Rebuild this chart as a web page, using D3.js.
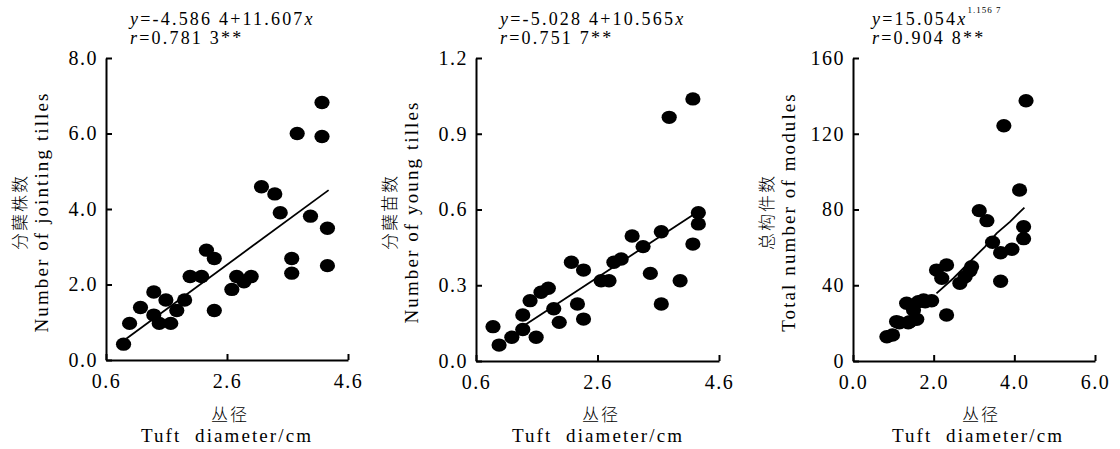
<!DOCTYPE html>
<html>
<head>
<meta charset="utf-8">
<script src="https://cdn.jsdelivr.net/npm/d3@7"></script>
<style>
  body { margin: 0; background: #fff; }
  svg { display: block; }
  .tick text { font-family: "Liberation Serif", "Times New Roman", serif; font-size: 20px; letter-spacing: 1.5px; fill: #000; }
  .axis path, .axis line { stroke: #000; stroke-width: 2px; }
  .eq { font-family: "Liberation Serif", "Times New Roman", serif; font-size: 18px; letter-spacing: 2.2px; }
  .lab-en { font-family: "Liberation Serif", "Times New Roman", serif; font-size: 19px; letter-spacing: 2.1px; }
  .lab-cn { font-family: "Noto Sans CJK SC", sans-serif; font-size: 17px; font-weight: 300; letter-spacing: 2px; }
</style>
</head>
<body>
<div id="chart"></div>
<script>
////////////////////////////////////////////////////////////////////
////////////////////////////  Data  ////////////////////////////////
// panel 1: jointing tillers
const tuft1 = [0.89, 0.99, 1.17, 1.39, 1.39, 1.48, 1.59, 1.67, 1.77, 1.90, 1.99, 2.18, 2.26, 2.39, 2.39,
  2.68, 2.76, 2.88, 3.00, 3.17, 3.39, 3.48, 3.67, 3.67, 3.76, 3.98, 4.17, 4.17, 4.26, 4.26];
const jointing = [0.42, 0.97, 1.39, 1.80, 1.19, 0.97, 1.59, 0.97, 1.31, 1.59, 2.21, 2.21, 2.91, 2.69, 1.31,
  1.87, 2.21, 2.07, 2.21, 4.59, 4.40, 3.90, 2.69, 2.30, 6.00, 3.81, 6.82, 5.92, 3.49, 2.50];
const fit1X = [0.94, 4.28];
const fit1Y = [0.57, 4.50];

// panel 2: young tillers
const tuft2 = [0.88, 0.98, 1.19, 1.37, 1.37, 1.49, 1.59, 1.67, 1.79, 1.88, 1.97, 2.17, 2.27, 2.37, 2.37,
  2.66, 2.79, 2.87, 2.99, 3.17, 3.35, 3.47, 3.65, 3.65, 3.78, 3.96, 4.17, 4.17, 4.26, 4.26];
const young = [0.136, 0.063, 0.094, 0.182, 0.125, 0.239, 0.094, 0.272, 0.288, 0.207, 0.153, 0.391, 0.226, 0.360, 0.166,
  0.318, 0.318, 0.391, 0.404, 0.495, 0.453, 0.347, 0.512, 0.226, 0.965, 0.318, 1.038, 0.463, 0.587, 0.543];
const fit2X = [1.38, 4.17];
const fit2Y = [0.139, 0.578];

// panel 3: total modules
const tuft3 = [0.84, 0.98, 1.08, 1.15, 1.33, 1.37, 1.41, 1.50, 1.58, 1.62, 1.75, 1.79, 1.95, 2.07, 2.20,
  2.32, 2.32, 2.65, 2.78, 2.90, 2.94, 3.13, 3.32, 3.46, 3.66, 3.66, 3.74, 3.94, 4.13, 4.23, 4.23, 4.29];
const modules = [12.8, 13.7, 20.8, 20.2, 30.5, 20.2, 20.8, 26.9, 22.0, 31.3, 32.2, 31.3, 31.8, 48.0, 43.7,
  50.7, 24.3, 41.0, 44.5, 47.7, 49.8, 79.4, 74.1, 62.7, 57.2, 42.1, 124.2, 59.0, 90.3, 70.9, 64.6, 137.4];
const fit3X = [2.07, 2.49, 2.98, 3.27, 3.56, 3.89, 4.14, 4.25];
const fit3Y = [35.7, 43.7, 54.2, 60.3, 67.4, 73.5, 78.8, 81.0];

// ticks
const xTicks12 = [0.6, 2.6, 4.6];
const xTicks3 = [0, 2, 4, 6];
const yTicks1 = [0, 2, 4, 6, 8];
const yTicks2 = [0, 0.3, 0.6, 0.9, 1.2];
const yTicks3 = [0, 40, 80, 120, 160];

// texts
const eqs = [
  { y: "-4.586 4+11.607", x: "x", sup: "", r: "0.781 3**" },
  { y: "-5.028 4+10.565", x: "x", sup: "", r: "0.751 7**" },
  { y: "15.054", x: "x", sup: "1.156 7", r: "0.904 8**" },
];
const yLabelsCn = ["分蘖株数", "分蘖苗数", "总构件数"];
const yLabelsEn = ["Number of jointing tilles", "Number of young tilles", "Total number of modules"];

////////////////////////////////////////////////////////////////////
////////////////////////////  Init  ////////////////////////////////
const width = 1120;
const height = 449;
const svg = d3.select("#chart").append("svg").attr("width", width).attr("height", height);

const panels = [
  { left: 106, right: 348, top: 58, bottom: 360, xd: [0.6, 4.6], yd: [0, 8], xt: xTicks12, yt: yTicks1,
    xf: d3.format(".1f"), yf: d3.format(".1f"), xs: tuft1, ys: jointing, fx: fit1X, fy: fit1Y, labMid: 227 },
  { left: 476, right: 719, top: 58, bottom: 361, xd: [0.6, 4.6], yd: [0, 1.2], xt: xTicks12, yt: yTicks2,
    xf: d3.format(".1f"), yf: d3.format(".1f"), xs: tuft2, ys: young, fx: fit2X, fy: fit2Y, labMid: 598 },
  { left: 853, right: 1095, top: 58, bottom: 361, xd: [0, 6], yd: [0, 160], xt: xTicks3, yt: yTicks3,
    xf: d3.format(".1f"), yf: d3.format("d"), xs: tuft3, ys: modules, fx: fit3X, fy: fit3Y, labMid: 978 },
];

panels.forEach((p, i) => {
  const x = d3.scaleLinear().domain(p.xd).range([p.left, p.right]);
  const y = d3.scaleLinear().domain(p.yd).range([p.bottom, p.top]);

  // axes (ticks point inward)
  svg.append("g")
    .attr("class", "axis")
    .attr("transform", `translate(0,${p.bottom})`)
    .call(d3.axisBottom(x).tickValues(p.xt).tickFormat(p.xf).tickSizeInner(-6).tickSizeOuter(0).tickPadding(14));

  svg.append("g")
    .attr("class", "axis")
    .attr("transform", `translate(${p.left},0)`)
    .call(d3.axisLeft(y).tickValues(p.yt).tickFormat(p.yf).tickSizeInner(-6).tickSizeOuter(0).tickPadding(8));

  // fit line
  const line = d3.line().x((d) => x(d[0])).y((d) => y(d[1]));
  svg.append("path")
    .datum(d3.zip(p.fx, p.fy))
    .attr("d", line)
    .attr("fill", "none")
    .attr("stroke", "#000")
    .attr("stroke-width", 1.8);

  // points
  svg.append("g")
    .selectAll("ellipse")
    .data(d3.zip(p.xs, p.ys))
    .join("ellipse")
    .attr("cx", (d) => x(d[0]))
    .attr("cy", (d) => y(d[1]))
    .attr("rx", 7.6)
    .attr("ry", 6.7)
    .attr("fill", "#000");

  // equation
  const e = eqs[i];
  const tx = p.left + (i === 2 ? 19 : 24);
  const t1 = svg.append("text").attr("class", "eq").attr("x", tx).attr("y", 25);
  t1.append("tspan").attr("font-style", "italic").text("y");
  t1.append("tspan").text("=" + e.y);
  t1.append("tspan").attr("font-style", "italic").text(e.x);
  if (e.sup) {
    t1.append("tspan").attr("dy", -12).attr("font-size", 9).attr("letter-spacing", "1px").text(e.sup);
  }
  const t2 = svg.append("text").attr("class", "eq").attr("x", tx).attr("y", 44);
  t2.append("tspan").attr("font-style", "italic").text("r");
  t2.append("tspan").text("=" + e.r);

  // y labels
  const ymid = 212;
  svg.append("text")
    .attr("class", "lab-cn")
    .attr("text-anchor", "middle")
    .attr("transform", `translate(${p.left - 80},${ymid}) rotate(-90)`)
    .text(yLabelsCn[i]);
  svg.append("text")
    .attr("class", "lab-en")
    .attr("text-anchor", "middle")
    .attr("transform", `translate(${p.left - 58},${ymid}) rotate(-90)`)
    .text(yLabelsEn[i]);

  // x labels
  svg.append("text")
    .attr("class", "lab-cn")
    .attr("text-anchor", "middle")
    .attr("x", p.labMid + 3)
    .attr("y", 421)
    .attr("letter-spacing", "6px")
    .attr("font-size", 19)
    .text("丛径");
  svg.append("text")
    .attr("class", "lab-en")
    .attr("text-anchor", "middle")
    .attr("x", p.labMid)
    .attr("y", 442)
    .style("white-space", "pre")
    .text("Tuft  diameter/cm");
});
</script>
</body>
</html>
